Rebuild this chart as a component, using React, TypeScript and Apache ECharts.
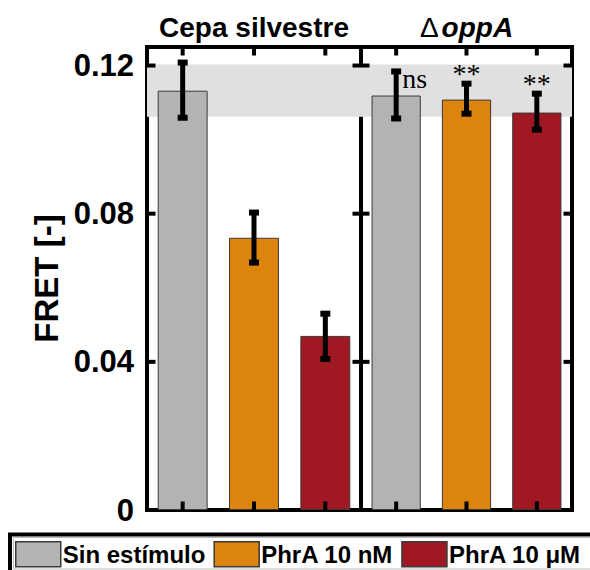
import React, { useEffect, useRef } from "react";
import * as echarts from "echarts";

const groups = ["Cepa silvestre", "ΔoppA"];
const conditions = ["Sin estímulo", "PhrA 10 nM", "PhrA 10 μM"];
const conditionColors = ["#b3b3b3", "#dc840b", "#a01822"];
const wildMeans = [0.1132, 0.0735, 0.047];
const wildErrLow = [0.1059, 0.0668, 0.0408];
const wildErrHigh = [0.1208, 0.0803, 0.053];
const oppMeans = [0.1119, 0.1108, 0.1073];
const oppErrLow = [0.1057, 0.107, 0.1027];
const oppErrHigh = [0.1184, 0.1151, 0.1124];
const wildMarks = ["", "", ""];
const oppMarks = ["ns", "**", "**"];
const bandRange = [0.1062, 0.1203];
const yTicks = [0, 0.04, 0.08, 0.12];
const yTickLabels = ["0", "0.04", "0.08", "0.12"];
const yMin = 0;
const yMax = 0.125;
const yInterval = 0.04;
const yTitle = "FRET [-]";

const SANS = "'Liberation Sans', Arial, Helvetica, sans-serif";
const SERIF = "'Liberation Serif', 'Times New Roman', serif";
const TICK_LEN = 8.5;
const TICK_W = 4;

export default function App() {
  const ref = useRef<HTMLDivElement>(null);
  useEffect(() => {
    if (!ref.current) return;
    const chart = echarts.init(ref.current, undefined, { renderer: "svg" });

    const means = [wildMeans, oppMeans];
    const lows = [wildErrLow, oppErrLow];
    const highs = [wildErrHigh, oppErrHigh];
    const marks = [wildMarks, oppMarks];

    const xAxis: any[] = [];
    const yAxis: any[] = [];
    groups.forEach((g, gi) => {
      const base = {
        type: "category",
        gridIndex: gi,
        data: conditions,
        axisLine: { show: false, onZero: false },
        axisLabel: { show: false },
        axisTick: { show: false },
        splitLine: { show: false },
      };
      xAxis.push({ ...base, position: "bottom" });
      xAxis.push({
        ...base,
        position: "top",
        name: gi === 0 ? g : "{d|Δ}{i|" + g.slice(1) + "}",
        nameLocation: "middle",
        nameGap: 6,
        nameTextStyle: {
          fontFamily: SANS,
          fontSize: 28,
          fontWeight: "bold",
          color: "#000",
          rich: {
            d: { fontFamily: SANS, fontSize: 28, fontWeight: "normal", color: "#000", padding: [0, 3, 0, 0] },
            i: { fontFamily: SANS, fontSize: 28, fontWeight: "bold", fontStyle: "italic", color: "#000" },
          },
        },
      });
      const ybase = {
        type: "value",
        gridIndex: gi,
        min: yMin,
        max: yMax,
        interval: yInterval,
        axisLine: { show: false, onZero: false },
        axisTick: { show: false },
        splitLine: { show: false },
      };
      yAxis.push({
        ...ybase,
        position: "left",
        axisLabel: {
          show: gi === 0,
          margin: 13,
          fontFamily: SANS,
          fontSize: 31,
          fontWeight: "bold",
          color: "#000",
          formatter: (v: number) => {
            const k = yTicks.findIndex((t) => Math.abs(t - v) < 1e-9);
            return k >= 0 ? yTickLabels[k] : "";
          },
        },
        name: gi === 0 ? yTitle : "",
        nameLocation: "middle",
        nameRotate: 90,
        nameGap: 84,
        nameTextStyle: { fontFamily: SANS, fontSize: 33, fontWeight: "bold", color: "#000" },
      });
      yAxis.push({ ...ybase, position: "right", axisLabel: { show: false } });
    });

    const series: any[] = [];
    groups.forEach((g, gi) => {
      series.push({
        type: "line",
        xAxisIndex: gi * 2,
        yAxisIndex: gi * 2,
        data: ["-", "-", "-"],
        silent: true,
        z: 1,
        markArea: {
          silent: true,
          itemStyle: { color: "#e0e0e0" },
          data: [[{ yAxis: bandRange[0] }, { yAxis: bandRange[1] }]],
        },
      });
    });
    conditions.forEach((c, ci) => {
      groups.forEach((g, gi) => {
        series.push({
          type: "bar",
          name: c,
          xAxisIndex: gi * 2,
          yAxisIndex: gi * 2,
          stack: "s" + gi,
          barWidth: "70%",
          z: 2,
          itemStyle: { color: conditionColors[ci], borderColor: "#3a3a3a", borderWidth: 1 },
          data: means[gi].map((v, i) => (i === ci ? v : "-")),
        });
      });
    });
    groups.forEach((g, gi) => {
      // error bars and significance marks
      series.push({
        type: "custom",
        xAxisIndex: gi * 2,
        yAxisIndex: gi * 2,
        z: 3,
        silent: true,
        data: conditions.map((c, i) => [i, lows[gi][i], highs[gi][i]]),
        encode: { x: 0, y: [1, 2] },
        renderItem: (params: any, api: any) => {
          const i = api.value(0);
          const lo = api.coord([i, api.value(1)]);
          const hi = api.coord([i, api.value(2)]);
          const x = lo[0];
          const children: any[] = [
            { type: "rect", shape: { x: x - 2.5, y: hi[1], width: 5, height: lo[1] - hi[1] }, style: { fill: "#000" } },
            { type: "rect", shape: { x: x - 5, y: hi[1] - 3, width: 10, height: 6 }, style: { fill: "#000" } },
            { type: "rect", shape: { x: x - 5, y: lo[1] - 3, width: 10, height: 6 }, style: { fill: "#000" } },
          ];
          const m = marks[gi][params.dataIndex];
          if (m === "ns") {
            children.push({
              type: "text",
              x: x + 6,
              y: hi[1] + 7,
              style: { text: m, fontFamily: SERIF, fontSize: 28, fill: "#000", align: "left", verticalAlign: "middle" },
            });
          } else if (m) {
            children.push({
              type: "text",
              x: x,
              y: hi[1] - 10,
              style: { text: m, fontFamily: SERIF, fontSize: 28, fill: "#000", align: "center", verticalAlign: "middle" },
            });
          }
          return { type: "group", children };
        },
      });
      // x ticks (top and bottom, inward) at category centres
      series.push({
        type: "custom",
        xAxisIndex: gi * 2,
        yAxisIndex: gi * 2,
        z: 4,
        silent: true,
        clip: false,
        data: conditions.map((c, i) => [i, yMin, yMax]),
        encode: { x: 0, y: [1, 2] },
        renderItem: (params: any, api: any) => {
          const bottom = api.coord([api.value(0), api.value(1)]);
          const top = api.coord([api.value(0), api.value(2)]);
          const x = bottom[0];
          return {
            type: "group",
            children: [
              { type: "rect", shape: { x: x - TICK_W / 2, y: bottom[1] - TICK_LEN, width: TICK_W, height: TICK_LEN }, style: { fill: "#000" } },
              { type: "rect", shape: { x: x - TICK_W / 2, y: top[1], width: TICK_W, height: TICK_LEN }, style: { fill: "#000" } },
            ],
          };
        },
      });
      // y ticks (left and right edges of each panel, inward)
      series.push({
        type: "custom",
        xAxisIndex: gi * 2,
        yAxisIndex: gi * 2,
        z: 4,
        silent: true,
        clip: false,
        data: yTicks.slice(1).map((v) => [0, v]),
        encode: { x: 0, y: 1 },
        renderItem: (params: any, api: any) => {
          const cs = params.coordSys;
          const p = api.coord([0, api.value(1)]);
          const y = p[1];
          return {
            type: "group",
            children: [
              { type: "rect", shape: { x: cs.x, y: y - TICK_W / 2, width: TICK_LEN, height: TICK_W }, style: { fill: "#000" } },
              { type: "rect", shape: { x: cs.x + cs.width - TICK_LEN, y: y - TICK_W / 2, width: TICK_LEN, height: TICK_W }, style: { fill: "#000" } },
            ],
          };
        },
      });
    });

    chart.setOption({
      animation: false,
      backgroundColor: "#fff",
      grid: [
        { left: 147, top: 47, width: 214, height: 463, show: true, borderColor: "#000", borderWidth: 4, backgroundColor: "transparent" },
        { left: 361, top: 47, width: 211, height: 463, show: true, borderColor: "#000", borderWidth: 4, backgroundColor: "transparent" },
      ],
      xAxis,
      yAxis,
      legend: {
        data: conditions,
        left: 15,
        top: 541,
        padding: 0,
        itemWidth: 45,
        itemHeight: 25,
        itemGap: 8,
        icon: "rect",
        itemStyle: { borderColor: "#3a3a3a", borderWidth: 1.5 },
        textStyle: { fontFamily: SANS, fontSize: 24, fontWeight: "bold", color: "#000", padding: [0, 0, 0, -3] },
      },
      graphic: [
        { type: "rect", z: 0, shape: { x: 13.5, y: 537.5, width: 600, height: 31.5 }, style: { fill: "none", stroke: "#bbb", lineWidth: 1 } },
        { type: "rect", z: 1, shape: { x: 10, y: 534.5, width: 610, height: 60 }, style: { fill: "none", stroke: "#000", lineWidth: 4 } },
      ],
      series,
    });
    return () => chart.dispose();
  }, []);
  return <div ref={ref} style={{ position: "absolute", left: 0, top: 0, width: 590, height: 570 }} />;
}
